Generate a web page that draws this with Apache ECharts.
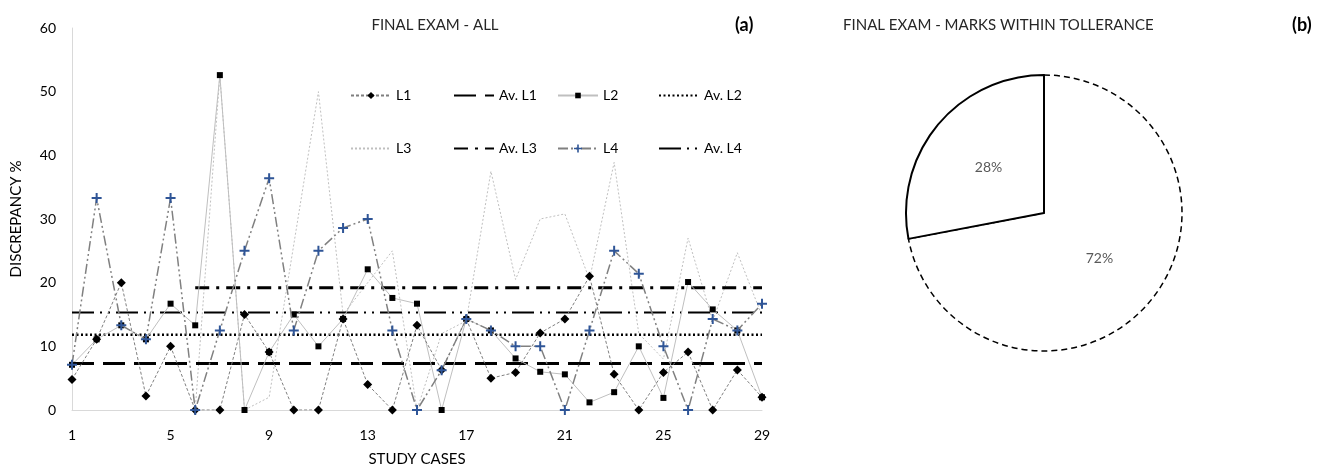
<!DOCTYPE html>
<html>
<head>
<meta charset="utf-8">
<script src="https://cdn.jsdelivr.net/npm/echarts@6/dist/echarts.min.js"></script>
<style>html,body{margin:0;padding:0;background:#fff;}#c{width:1330px;height:472px;}</style>
</head>
<body>
<div id="c"></div>
<script>
// ---- data ----
const cases = ['1','2','3','4','5','6','7','8','9','10','11','12','13','14','15','16','17','18','19','20','21','22','23','24','25','26','27','28','29'];
const l1 = [4.8, 11.1, 20.0, 2.2, 10.0, 0, 0, 15.0, 9.1, 0, 0, 14.3, 4.0, 0, 13.3, 6.3, 14.3, 5.0, 5.9, 12.1, 14.3, 21.0, 5.6, 0, 5.9, 9.1, 0, 6.3, 2.0];
const l2 = [7.1, 11.1, 13.3, 11.1, 16.7, 13.3, 52.6, 0, 9.1, 15.0, 10.0, 14.3, 22.1, 17.6, 16.7, 0, 14.3, 12.5, 8.1, 6.0, 5.6, 1.2, 2.8, 10.0, 1.9, 20.1, 15.8, 12.5, 2.0];
const l3 = ['-', '-', '-', '-', '-', 0, 52.6, 0, 2.0, 26.0, 50.0, 15.0, 20.0, 25.0, 0, 12.0, 14.0, 37.5, 20.5, 30.0, 30.8, 20.5, 38.9, 12.0, 8.0, 27.0, 14.0, 24.7, 14.8];
const l4 = [7.1, 33.3, 13.3, 11.1, 33.3, 0, 12.5, 25.0, 36.4, 12.5, 25.0, 28.6, 30.0, 12.5, 0, 6.25, 14.3, 12.5, 10.0, 10.0, 0, 12.5, 25.0, 21.4, 10.0, 0, 14.3, 12.5, 16.7];
const avL1 = 7.3;
const avL2 = 11.8;
const avL3 = 19.2;
const avL4 = 15.3;
const avL3FirstCase = '6';
const yTicks = [0, 10, 20, 30, 40, 50, 60];
const pieNames = ['Outside tolerance', 'Within tolerance'];
const pieValues = [72, 28];

// ---- chart ----
const FONT = 'Lato, "Open Sans", sans-serif';
const chart = echarts.init(document.getElementById('c'), null, {renderer: 'canvas'});
const avgLine = (v, from) => cases.map((c, i) => (i >= cases.indexOf(from) ? v : '-'));
const plus = 'path://M4,0H6V4H10V6H6V10H4V6H0V4H4Z';

// name, left, top, marker height in legend (0 = no marker)
const legendPos = [
  ['L1', 350, 87, 9], ['Av. L1', 453, 87, 0], ['L2', 557, 87, 7], ['Av. L2', 658, 87, 0],
  ['L3', 350, 140, 0], ['Av. L3', 453, 140, 0], ['L4', 557, 140, 10], ['Av. L4', 658, 140, 0]
];

const option = {
  animation: false,
  textStyle: {fontFamily: FONT},
  title: [
    {text: 'FINAL EXAM - ALL', left: 430, top: 13, textAlign: 'center',
     textStyle: {fontSize: 15, fontWeight: 'normal', color: '#262626', fontFamily: FONT}},
    {text: '(a)', left: 730, top: 11,
     textStyle: {fontSize: 18, fontWeight: 'bold', color: '#000', fontFamily: FONT}},
    {text: 'FINAL EXAM - MARKS WITHIN TOLLERANCE', left: 838, top: 13,
     textStyle: {fontSize: 15, fontWeight: 'normal', color: '#262626', fontFamily: FONT}},
    {text: '(b)', left: 1287, top: 11,
     textStyle: {fontSize: 18, fontWeight: 'bold', color: '#000', fontFamily: FONT}}
  ],
  legend: legendPos.map(([n, x, y, h]) => ({
    data: [n], left: x, top: y, padding: 0, itemGap: 0,
    itemWidth: 40, itemHeight: h || 12, selectedMode: false,
    itemStyle: h ? {} : {opacity: 0},
    textStyle: {fontSize: 14, color: '#000', fontFamily: FONT, lineHeight: 17}
  })),
  grid: {left: 72, right: 568, top: 28, bottom: 61, containLabel: false},
  xAxis: {
    type: 'category', data: cases, boundaryGap: false,
    name: 'STUDY CASES', nameLocation: 'middle', nameGap: 42,
    nameTextStyle: {fontSize: 15, color: '#000', fontFamily: FONT},
    axisLine: {lineStyle: {color: '#d9d9d9', width: 1}},
    axisTick: {show: false},
    axisLabel: {interval: 3, fontSize: 14, color: '#000', margin: 18, fontFamily: FONT},
    splitLine: {show: false}
  },
  yAxis: {
    type: 'value', min: yTicks[0], max: yTicks[yTicks.length - 1], interval: 10,
    name: 'DISCREPANCY %', nameLocation: 'middle', nameGap: 48,
    nameTextStyle: {fontSize: 15, color: '#000', fontFamily: FONT},
    axisLine: {show: true, lineStyle: {color: '#d9d9d9', width: 1}},
    axisTick: {show: false},
    axisLabel: {fontSize: 14, color: '#000', margin: 16, fontFamily: FONT},
    splitLine: {show: false}
  },
  series: [
    {name: 'L1', type: 'line', data: l1, symbol: 'diamond', symbolSize: 9, z: 5,
     itemStyle: {color: '#000'}, lineStyle: {color: '#7f7f7f', width: 1, type: [3, 2]}},
    {name: 'Av. L1', type: 'line', data: avgLine(avL1, '1'), symbol: 'none', z: 3,
     itemStyle: {color: '#000'}, lineStyle: {color: '#000', width: 3, type: [22, 9]}},
    {name: 'L2', type: 'line', data: l2, symbol: 'rect', symbolSize: 6, z: 4,
     itemStyle: {color: '#000'}, lineStyle: {color: '#bfbfbf', width: 1, type: 'solid'}},
    {name: 'Av. L2', type: 'line', data: avgLine(avL2, '1'), symbol: 'none', z: 3,
     itemStyle: {color: '#000'}, lineStyle: {color: '#000', width: 2.5, type: [2, 2.5]}},
    {name: 'L3', type: 'line', data: l3, symbol: 'none', z: 2,
     itemStyle: {color: '#bfbfbf'}, lineStyle: {color: '#bfbfbf', width: 1, type: [2, 2]}},
    {name: 'Av. L3', type: 'line', data: avgLine(avL3, avL3FirstCase), symbol: 'none', z: 3,
     itemStyle: {color: '#000'}, lineStyle: {color: '#000', width: 3, type: [14, 7, 3, 7]}},
    {name: 'L4', type: 'line', data: l4, symbol: plus, symbolSize: 10, z: 6,
     itemStyle: {color: '#2f5597'}, lineStyle: {color: '#808080', width: 1.5, type: [10, 3, 2, 3, 2, 3]}},
    {name: 'Av. L4', type: 'line', data: avgLine(avL4, '1'), symbol: 'none', z: 3,
     itemStyle: {color: '#000'}, lineStyle: {color: '#000', width: 2, type: [22, 6, 2, 6, 2, 6]}},
    {name: 'Pie', type: 'pie', center: [1044, 213], radius: 138, startAngle: 90, clockwise: true,
     silent: true, legendHoverLink: false,
     label: {show: true, position: 'inside', formatter: '{c}%', fontSize: 14, color: '#595959', fontFamily: FONT},
     labelLine: {show: false},
     emphasis: {disabled: true},
     data: [
       {name: pieNames[0], value: pieValues[0],
        itemStyle: {color: '#fff', borderColor: '#000', borderWidth: 1.5, borderType: [6, 4]}},
       {name: pieNames[1], value: pieValues[1],
        itemStyle: {color: '#fff', borderColor: '#000', borderWidth: 2, borderType: 'solid'}}
     ]}
  ]
};
chart.setOption(option);
</script>
</body>
</html>
